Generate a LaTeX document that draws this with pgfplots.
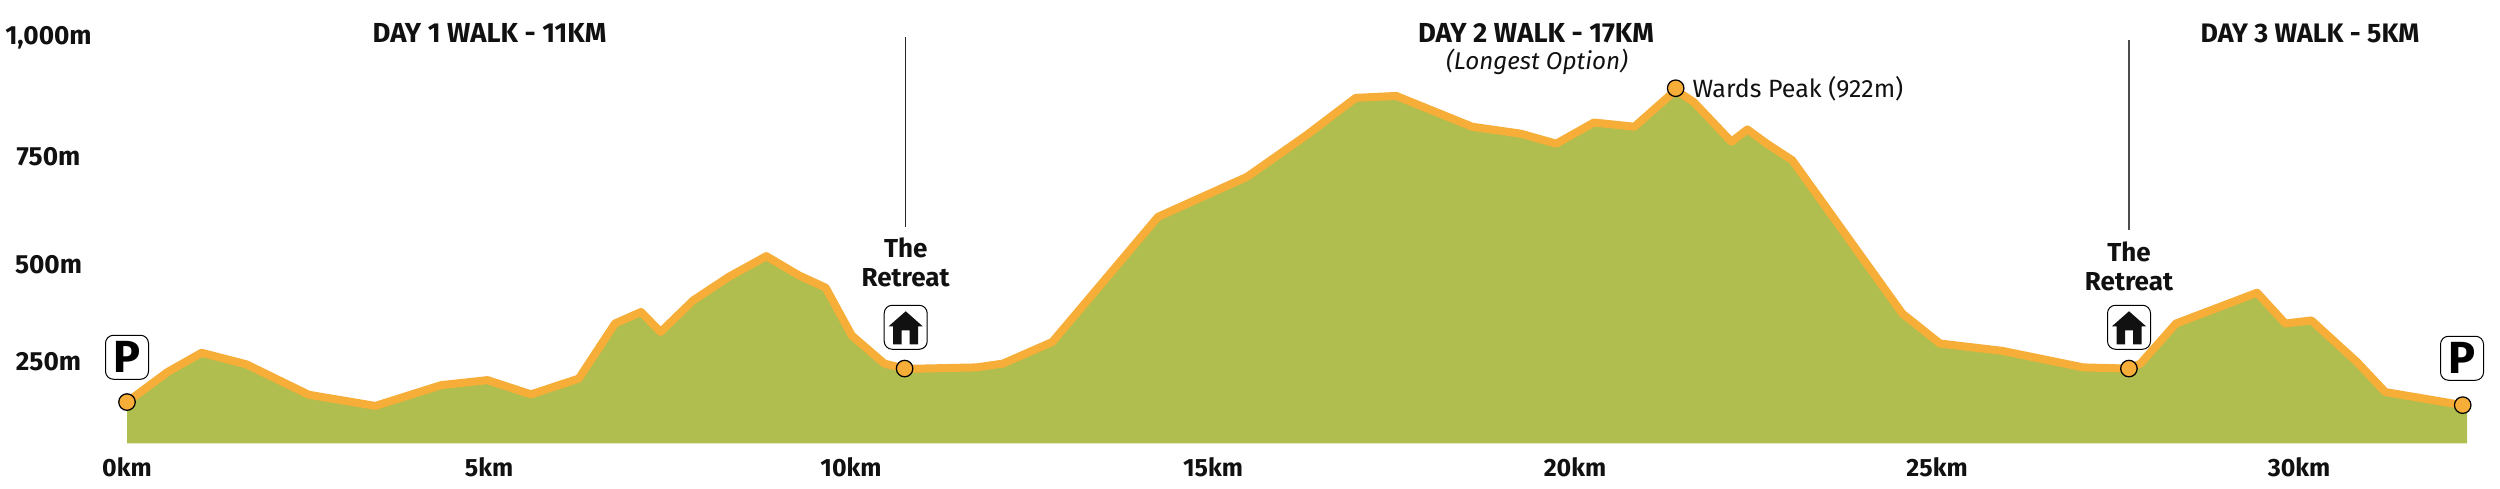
\documentclass[border=0pt]{standalone}
\usepackage{pgfplots}
\usepackage{pgfplotstable}
\usepackage{fontspec}
\setmainfont{Fira Sans}
\pgfplotsset{compat=1.18}
\definecolor{fillc}{HTML}{AFBE4E}
\definecolor{linec}{HTML}{F6AE38}
\definecolor{ink}{HTML}{111111}
\pgfplotstableread{
km h
0 107
0.56 185
1.03 235
1.65 205
2.51 126
3.43 97
4.34 151
4.98 164
5.58 127
6.24 168
6.74 311
7.10 341
7.37 289
7.82 371
8.31 432
8.83 486
9.28 436
9.65 404
10.01 280
10.46 207
10.74 194
10.98 194
11.73 197
12.10 207
12.78 263
14.24 588
15.47 692
16.29 800
16.97 897
17.53 902
18.58 822
19.25 804
19.74 778
20.26 833
20.82 822
21.39 917
21.64 886
22.16 783
22.38 815
22.65 778
23.00 735
24.52 337
25.04 259
25.90 240
27.02 197
27.65 194
27.81 207
28.30 311
29.42 391
29.81 311
30.17 319
30.80 211
31.19 133
32.26 99
32.32 96
}\profile
\newcommand{\housebox}[2]{%
  \draw[black,line width=0.4pt,fill=white,rounded corners=3.2pt] (#1-21.5,#2-22) rectangle (#1+21.5,#2+22);
  \fill[ink] (#1,#2-16) -- (#1+17,#2-1) -- (#1+12.5,#2-1) -- (#1+12.5,#2+17) -- (#1+4,#2+17) -- (#1+4,#2+3) -- (#1-4,#2+3) -- (#1-4,#2+17) -- (#1-12.5,#2+17) -- (#1-12.5,#2-1) -- (#1-17,#2-1) -- cycle;}
\newcommand{\pbox}[2]{%
  \draw[black,line width=0.4pt,fill=white,rounded corners=3.2pt] (#1-21.5,#2-22) rectangle (#1+21.5,#2+22);
  \node[text=black,font=\fontsize{18}{18}\selectfont\bfseries] at (#1,#2) {P};}
\begin{document}
\begin{tikzpicture}
\begin{axis}[
  at={(50.8pt,-177.2pt)}, anchor=south west,
  scale only axis, width=936pt, height=177.2pt,
  xmin=0, xmax=32.32, ymin=0, ymax=1150.5,
  clip=false,
  axis line style={draw=none}, major tick length=0pt,
  xtick={0,5,10,15,20,25,30},
  xticklabels={0km,5km,10km,15km,20km,25km,30km},
  ytick={213,465,745,1054},
  yticklabels={250m,500m,750m,\makebox[0pt][c]{1,000m}},
  xticklabel style={anchor=center,yshift=-9.4pt,text=ink,font=\fontsize{10}{10}\selectfont\bfseries},
  yticklabel style={anchor=center,xshift=-31.4pt,text=ink,font=\fontsize{10.5}{10}\selectfont\bfseries},
]
\addplot[fill=fillc,draw=none] table[x=km,y=h]{\profile} \closedcycle;
\addplot[line width=3.2pt,color=linec,line join=round] table[x=km,y=h]{\profile};
\addplot[only marks,mark=*,mark size=3.3pt,mark options={fill=linec,draw=black,line width=0.5pt}] coordinates {(0,107) (10.74,194) (21.39,922) (27.65,194) (32.26,99)};
\addplot[black!85,line width=0.5pt] coordinates {(10.75,1055) (10.75,562)};
\addplot[black!70,line width=0.5pt] coordinates {(27.65,1047) (27.65,555)};
\end{axis}
\begin{scope}[x=0.4pt,y=-0.4pt]
\path[use as bounding box] (0,0) rectangle (2500,488);
\node[text=ink,font=\fontsize{11}{12}\selectfont\bfseries] at (489.5,33) {DAY 1 WALK - 11KM};
\node[text=ink,font=\fontsize{11}{12}\selectfont\bfseries] at (1536,33) {DAY 2 WALK - 17KM};
\node[text=ink,font=\fontsize{10.7}{12}\selectfont\bfseries] at (2310,33) {DAY 3 WALK - 5KM};
\node[text=ink,font=\fontsize{9.7}{12}\selectfont\itshape] at (1537,62) {(Longest Option)};
\node[text=ink,anchor=west,inner sep=0pt,font=\fontsize{10}{12}\selectfont] at (1692,88) {Wards Peak (922m)};
\node[text=ink,font=\fontsize{10.4}{12}\selectfont\bfseries] at (905.7,248) {The};
\node[text=ink,font=\fontsize{10.4}{12}\selectfont\bfseries] at (905.7,277) {Retreat};
\node[text=ink,font=\fontsize{10.4}{12}\selectfont\bfseries] at (2129,252) {The};
\node[text=ink,font=\fontsize{10.4}{12}\selectfont\bfseries] at (2129,281) {Retreat};
\housebox{905.7}{327}
\housebox{2129}{327}
\pbox{127}{357}
\pbox{2462}{358}
\end{scope}
\end{tikzpicture}
\end{document}
